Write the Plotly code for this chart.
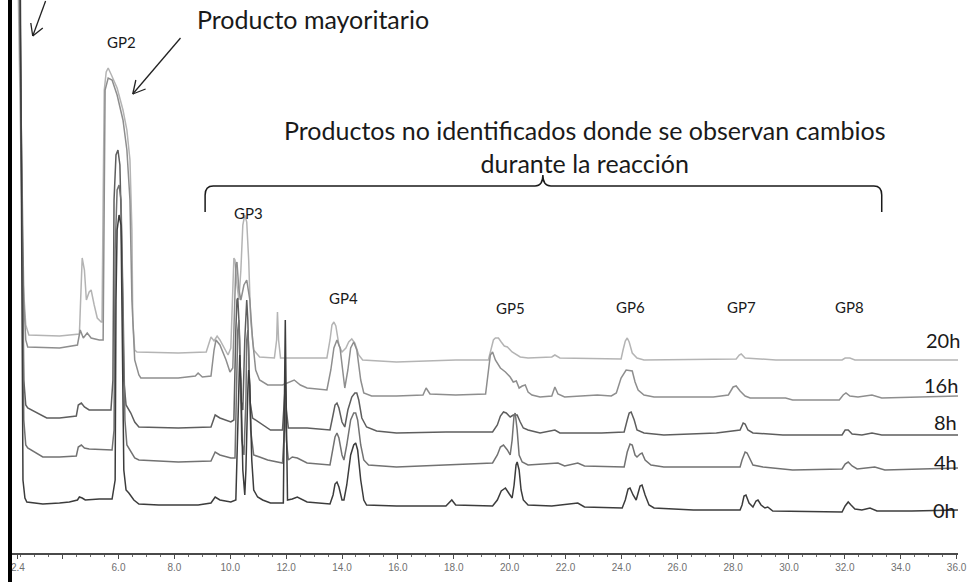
import plotly.graph_objects as go

# Retention time (min) and stacked detector response (arbitrary units) for each sampling time.
t_0h = [2.36, 2.47, 2.58, 2.65, 2.72, 3.29, 3.89, 4.24, 4.53, 4.60, 4.70, 4.81, 5.31, 5.77, 5.88, 5.91, 5.95, 6.02,
        6.09, 6.12, 6.16, 6.19, 6.27, 6.37, 6.55, 6.73, 7.44, 8.85, 9.31, 9.46, 9.63, 10.02, 10.20, 10.27, 10.31,
        10.34, 10.38, 10.45, 10.52, 10.56, 10.63, 10.66, 10.70, 10.77, 10.84, 10.98, 11.16, 11.44, 11.90, 11.94,
        11.97, 12.01, 12.05, 12.22, 12.40, 12.75, 13.57, 13.68, 13.75, 13.82, 13.89, 14.00, 14.07, 14.17, 14.31,
        14.42, 14.49, 14.56, 14.67, 14.78, 14.88, 15.95, 17.72, 17.93, 18.07, 19.39, 19.56, 19.70, 19.85, 19.99,
        20.09, 20.16, 20.23, 20.27, 20.34, 20.41, 20.49, 20.66, 21.51, 22.44, 22.68, 24.03, 24.14, 24.24, 24.31,
        24.42, 24.53, 24.60, 24.67, 24.74, 24.85, 24.99, 25.17, 26.58, 28.25, 28.32, 28.39, 28.46, 28.57, 28.71,
        28.82, 28.89, 29.00, 29.14, 29.24, 29.42, 30.84, 31.90, 32.01, 32.12, 32.22, 32.36, 32.61, 32.90, 33.15,
        34.39, 36.05]
y_0h = [650, 650, 73, 55, 51, 49, 50, 51, 53, 56, 55, 53, 54, 54, 73, 253, 323, 338,
        328, 253, 153, 83, 63, 60, 53, 49, 48, 48, 50, 56, 53, 51, 53, 133, 193,
        198, 173, 83, 58, 83, 163, 183, 168, 93, 63, 56, 53, 50, 50, 133,
        233, 133, 53, 54, 56, 51, 49, 58, 69, 71, 66, 53, 53, 68, 98,
        108, 110, 103, 73, 53, 48, 47, 47, 53, 48, 47, 53, 62, 65, 59,
        55, 68, 88, 91, 83, 63, 53, 48, 47, 50, 46, 45, 53, 64, 65,
        58, 53, 60, 67, 68, 58, 48, 45, 43, 43, 48, 57, 58, 50, 46,
        52, 53, 48, 45, 46, 42, 41, 41, 47, 51, 48, 44, 43, 45, 42,
        42, 43]

t_4h = [2.33, 2.44, 2.61, 2.68, 2.75, 3.29, 3.89, 4.49, 4.56, 4.67, 4.78, 4.95, 5.77, 5.84, 5.88, 5.95, 6.02, 6.09,
        6.16, 6.23, 6.30, 6.44, 6.58, 6.73, 8.14, 9.31, 9.46, 9.63, 10.02, 10.17, 10.24, 10.27, 10.31, 10.34,
        10.41, 10.49, 10.56, 10.59, 10.63, 10.66, 10.73, 10.84, 11.05, 11.34, 11.87, 11.94, 11.97, 12.01, 12.08,
        12.22, 12.40, 12.75, 13.57, 13.68, 13.75, 13.82, 13.89, 14.00, 14.07, 14.17, 14.31, 14.42, 14.49, 14.56,
        14.67, 14.78, 14.95, 15.95, 17.72, 19.39, 19.56, 19.67, 19.78, 19.92, 20.02, 20.09, 20.16, 20.20, 20.27,
        20.34, 20.45, 20.66, 21.73, 21.97, 22.44, 22.68, 24.10, 24.21, 24.31, 24.39, 24.49, 24.56, 24.67, 24.74,
        24.85, 25.06, 25.52, 28.25, 28.32, 28.43, 28.50, 28.61, 28.71, 29.07, 30.13, 31.90, 32.01, 32.12, 32.26,
        32.44, 32.90, 33.07, 33.43, 36.05]
y_4h = [650, 650, 133, 108, 105, 96, 96, 97, 106, 108, 105, 104, 103, 123, 303, 363, 368, 353,
        253, 133, 108, 101, 95, 93, 91, 92, 101, 98, 95, 95, 173, 223, 233, 213,
        113, 98, 153, 213, 223, 203, 123, 98, 96, 93, 90, 123, 153, 113, 93,
        96, 95, 90, 88, 103, 116, 120, 115, 98, 93, 108, 133, 140, 140, 133,
        108, 93, 88, 86, 88, 90, 98, 106, 108, 103, 98, 113, 138, 140, 123,
        98, 91, 88, 90, 87, 90, 87, 86, 101, 109, 108, 98, 96, 99, 100,
        93, 88, 86, 86, 93, 101, 100, 93, 88, 86, 83, 84, 89, 91, 87,
        84, 86, 86, 83, 85]

t_8h = [2.33, 2.44, 2.61, 2.68, 2.75, 3.43, 3.89, 4.49, 4.56, 4.67, 4.78, 4.95, 5.73, 5.80, 5.84, 5.91, 5.98, 6.05,
        6.12, 6.19, 6.27, 6.44, 6.58, 6.73, 8.14, 9.31, 9.46, 9.63, 10.02, 10.13, 10.20, 10.24, 10.27, 10.31,
        10.38, 10.45, 10.52, 10.56, 10.59, 10.63, 10.70, 10.80, 11.05, 11.44, 11.87, 11.94, 11.97, 12.01, 12.08,
        12.75, 13.57, 13.68, 13.75, 13.82, 13.89, 14.00, 14.10, 14.21, 14.35, 14.46, 14.53, 14.60, 14.71, 14.88,
        15.24, 15.95, 17.72, 19.39, 19.56, 19.67, 19.78, 19.88, 20.02, 20.13, 20.27, 20.38, 20.49, 20.66, 21.09,
        21.62, 21.80, 23.29, 24.10, 24.21, 24.28, 24.35, 24.46, 24.56, 24.81, 25.52, 27.40, 28.25, 28.36, 28.43,
        28.53, 28.71, 29.78, 31.90, 32.01, 32.12, 32.26, 32.61, 32.97, 33.32, 36.05]
y_8h = [650, 650, 173, 148, 145, 135, 135, 137, 148, 150, 146, 143, 143, 173, 353, 398, 403, 388,
        303, 173, 148, 140, 131, 126, 125, 126, 138, 135, 131, 133, 223, 253, 255, 233,
        153, 143, 213, 248, 253, 233, 153, 135, 130, 123, 123, 153, 168, 143, 125,
        125, 123, 138, 148, 150, 145, 131, 126, 143, 156, 160, 160, 153, 135, 126,
        122, 120, 121, 121, 128, 137, 141, 140, 136, 138, 138, 131, 125, 123, 120,
        123, 120, 120, 121, 133, 140, 141, 133, 123, 120, 118, 120, 123, 130, 129,
        123, 120, 118, 118, 123, 123, 119, 118, 120, 118, 118]

t_16h = [2.29, 2.40, 2.61, 2.68, 2.75, 3.89, 4.53, 4.63, 4.74, 4.88, 5.02, 5.31, 5.45, 5.49, 5.52, 5.63, 5.77, 5.95,
         6.16, 6.30, 6.41, 6.48, 6.58, 6.73, 6.80, 8.14, 8.75, 8.85, 9.00, 9.31, 9.42, 9.49, 9.63, 9.85, 9.99,
         10.09, 10.17, 10.20, 10.24, 10.31, 10.38, 10.49, 10.59, 10.70, 10.80, 10.91, 11.05, 11.34, 11.87, 12.05,
         12.29, 12.51, 12.75, 13.46, 13.60, 13.71, 13.82, 13.93, 14.03, 14.10, 14.21, 14.31, 14.42, 14.53, 14.67,
         14.78, 15.06, 15.95, 16.90, 17.01, 17.15, 18.07, 19.14, 19.24, 19.31, 19.39, 19.49, 19.67, 19.85, 20.02,
         20.13, 20.24, 20.34, 20.45, 20.56, 20.66, 20.80, 21.09, 21.51, 21.62, 21.73, 21.97, 23.14, 23.64, 23.82,
         23.99, 24.17, 24.39, 24.49, 24.60, 24.81, 25.17, 27.29, 27.83, 28.00, 28.11, 28.25, 28.43, 28.61, 29.88,
         30.13, 31.80, 31.94, 32.04, 32.18, 32.47, 32.97, 33.32, 36.05]
y_16h = [650, 650, 253, 213, 206, 205, 208, 223, 215, 220, 215, 213, 213, 353, 463, 475, 473, 458,
         433, 403, 353, 253, 193, 178, 175, 175, 177, 180, 176, 177, 203, 213, 208, 193, 181,
         185, 253, 288, 291, 263, 253, 268, 273, 253, 213, 183, 173, 168, 168, 170,
         173, 168, 165, 163, 183, 205, 213, 205, 178, 165, 183, 205, 211, 203, 173,
         160, 157, 157, 158, 165, 159, 158, 159, 183, 198, 201, 193, 185, 181, 176,
         171, 172, 165, 167, 168, 161, 158, 156, 157, 166, 159, 156, 158, 157, 160,
         175, 183, 182, 171, 163, 158, 156, 156, 158, 166, 167, 162, 157, 155, 155,
         153, 153, 158, 160, 157, 156, 158, 155, 157]

t_20h = [2.26, 2.36, 2.58, 2.68, 2.79, 3.89, 4.60, 4.67, 4.70, 4.78, 4.85, 4.95, 5.02, 5.13, 5.24, 5.38, 5.41, 5.45,
         5.49, 5.56, 5.63, 5.73, 5.95, 6.16, 6.30, 6.41, 6.48, 6.51, 6.58, 6.66, 8.14, 9.14, 9.24, 9.31, 9.42,
         9.53, 9.63, 9.78, 9.92, 10.02, 10.09, 10.13, 10.17, 10.24, 10.31, 10.38, 10.45, 10.52, 10.59, 10.66,
         10.73, 10.84, 11.05, 11.58, 11.66, 11.69, 11.73, 11.80, 12.40, 13.46, 13.57, 13.64, 13.71, 13.78, 13.89,
         14.00, 14.14, 14.24, 14.35, 14.46, 14.60, 14.74, 15.95, 18.07, 19.24, 19.35, 19.42, 19.49, 19.60, 19.70,
         19.81, 19.92, 20.09, 20.38, 20.66, 21.51, 21.62, 21.80, 23.99, 24.06, 24.14, 24.21, 24.28, 24.39, 24.56,
         24.81, 28.11, 28.22, 28.29, 28.43, 29.53, 31.90, 32.01, 32.18, 32.36, 36.05]
y_20h = [650, 650, 273, 228, 218, 217, 219, 263, 295, 283, 253, 261, 263, 248, 235, 231, 231, 353,
         463, 481, 485, 479, 465, 443, 423, 393, 323, 233, 203, 201, 200, 201, 211, 216, 212,
         217, 213, 205, 198, 205, 278, 295, 293, 268, 253, 283, 328, 338, 331, 293,
         233, 203, 196, 195, 213, 241, 213, 195, 195, 195, 213, 228, 231, 227, 208,
         201, 205, 211, 214, 210, 198, 193, 191, 193, 193, 205, 213, 215, 215, 211,
         207, 206, 201, 196, 195, 196, 198, 195, 194, 203, 212, 215, 211, 200, 195,
         193, 194, 198, 199, 195, 193, 193, 195, 195, 193, 193]

sample_labels = ["20h", "16h", "8h", "4h", "0h"]
sample_t = [t_20h, t_16h, t_8h, t_4h, t_0h]
sample_y = [y_20h, y_16h, y_8h, y_4h, y_0h]
sample_colors = ["#b4b4b4", "#8e8e8e", "#5e5e5e", "#727272", "#3c3c3c"]
# label anchor (time, response) for each trace name
sample_label_pos = [(35.50, 213), (35.44, 168), (35.62, 131), (35.60, 91), (35.58, 43)]

peak_names = ["GP2", "GP3", "GP4", "GP5", "GP6", "GP7", "GP8"]
peak_label_pos = [(6.12, 511), (10.66, 340), (14.07, 255), (20.02, 245), (24.31, 246), (28.29, 246), (32.18, 246)]

tick_vals = [2.4, 4.0, 6.0, 8.0, 10.0, 12.0, 14.0, 16.0, 18.0, 20.0, 22.0, 24.0, 26.0, 28.0, 30.0, 32.0, 34.0, 36.0]
tick_text = ["2.4", "", "6.0", "8.0", "10.0", "12.0", "14.0", "16.0", "18.0", "20.0", "22.0", "24.0", "26.0",
             "28.0", "30.0", "32.0", "34.0", "36.0"]

fig = go.Figure()
for name, tt, yy, col in zip(sample_labels, sample_t, sample_y, sample_colors):
    fig.add_trace(go.Scatter(x=tt, y=yy, mode="lines", name=name,
                             line=dict(color=col, width=1.5), hoverinfo="skip"))

text_font = dict(family="Lato, 'Open Sans', sans-serif", color="#1a1a1a")
annotations = []
for name, (tx, ty) in zip(sample_labels, sample_label_pos):
    annotations.append(dict(x=tx, y=ty, text=name, showarrow=False, xref="x", yref="y",
                            font=dict(text_font, size=20)))
for name, (tx, ty) in zip(peak_names, peak_label_pos):
    annotations.append(dict(x=tx, y=ty, text=name, showarrow=False, xref="x", yref="y",
                            font=dict(text_font, size=15)))
annotations.append(dict(x=12.97, y=534, text="Producto mayoritario", showarrow=False, xref="x", yref="y",
                        font=dict(text_font, size=25)))
annotations.append(dict(x=22.68, y=407, align="center", showarrow=False, xref="x", yref="y",
                        text="Productos no identificados donde se observan cambios<br>durante la reacción",
                        font=dict(text_font, size=25)))

arrow_line = dict(color="#222222", width=1.3)
shapes = [
    # left frame line
    dict(type="line", xref="paper", yref="paper", x0=0, x1=0, y0=-0.06, y1=1.0,
         line=dict(color="black", width=4)),
    # brace over the unidentified products
    dict(type="path", xref="x", yref="y", line=dict(color="#1a1a1a", width=1.5),
         path="M 9.10,341 L 9.10,358 Q 9.10,367 9.39,367 L 20.91,367 Q 21.19,367 21.19,378 "
              "Q 21.19,367 21.48,367 L 33.04,367 Q 33.32,367 33.32,358 L 33.32,341"),
    # arrow to the main product
    dict(type="line", xref="x", yref="y", x0=8.22, y0=515, x1=6.51, y1=459, line=arrow_line),
    dict(type="line", xref="x", yref="y", x0=6.51, y0=459, x1=6.97, y1=464, line=arrow_line),
    dict(type="line", xref="x", yref="y", x0=6.51, y0=459, x1=6.62, y1=473, line=arrow_line),
    # arrow to the solvent front
    dict(type="line", xref="x", yref="y", x0=3.39, y0=552, x1=2.93, y1=517, line=arrow_line),
    dict(type="line", xref="x", yref="y", x0=2.93, y0=517, x1=3.29, y1=525, line=arrow_line),
    dict(type="line", xref="x", yref="y", x0=2.93, y0=517, x1=2.86, y1=530, line=arrow_line),
]

fig.update_layout(
    width=967, height=582,
    margin=dict(l=10, r=0, t=0, b=29),
    paper_bgcolor="white", plot_bgcolor="white",
    showlegend=False,
    annotations=annotations,
    shapes=shapes,
    xaxis=dict(range=[2.116, 36.05], showgrid=False, zeroline=False,
               showline=True, linecolor="#4a4a4a", linewidth=2,
               tickmode="array", tickvals=tick_vals, ticktext=tick_text,
               ticks="outside", ticklen=4, tickcolor="#4a4a4a", tickwidth=1,
               minor=dict(dtick=0.5, ticks="outside", ticklen=2, tickcolor="#6a6a6a"),
               ticklabeloverflow="allow",
               tickfont=dict(family="Liberation Sans, Arial, sans-serif", size=10, color="#707070")),
    yaxis=dict(range=[0, 553], showgrid=False, zeroline=False, showline=False,
               showticklabels=False, ticks=""),
)

fig.write_html("out.html")
